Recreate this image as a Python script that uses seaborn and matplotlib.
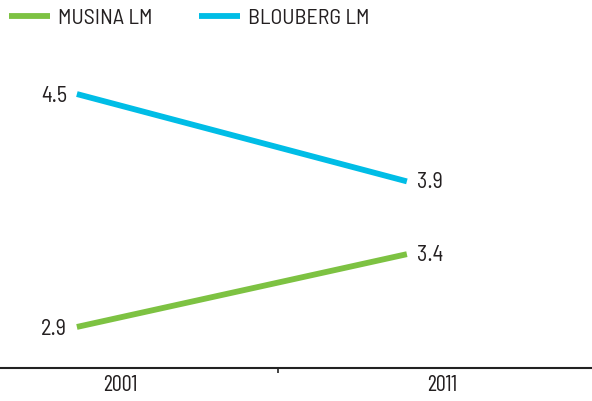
import matplotlib
matplotlib.use("Agg")
import matplotlib.pyplot as plt
import seaborn as sns
import pandas as pd

years = ["2001", "2011"]
musina = [2.9, 3.4]
blouberg = [4.5, 3.9]
series_names = ["MUSINA LM", "BLOUBERG LM"]
colors = ["#7DC242", "#00BDE6"]
text_color = "#231F20"

sns.set_theme(style="white")
plt.rcParams["font.family"] = ["Barlow Condensed", "DejaVu Sans"]
wide_font = ["Barlow Semi Condensed", "DejaVu Sans"]

df = pd.DataFrame({
    "idx": list(range(len(years))) * 2,
    "value": musina + blouberg,
    "series": [series_names[0]] * len(years) + [series_names[1]] * len(years),
})

fig = plt.figure(figsize=(5.92, 4.01), dpi=100)
rect = [0, 33 / 401, 1, 368 / 401]
ylim = (2.618, 5.146)

# base axes: year categories along the bottom axis line
base = fig.add_axes(rect)
base.set_xlim(-0.373, 1.466)
base.set_ylim(*ylim)
base.set_xticks(range(len(years)), years)
base.set_xticks([0.49], minor=True)
base.tick_params(axis="x", which="major", bottom=False, length=0, pad=5,
                 labelsize=16, colors=text_color)
base.tick_params(axis="x", which="minor", bottom=True, length=3.5, width=1.2,
                 direction="out", color="#222222")
base.set_yticks([])
for s in ["top", "left", "right"]:
    base.spines[s].set_visible(False)
base.spines["bottom"].set_color("#222222")
base.spines["bottom"].set_linewidth(1.5)
base.set_facecolor("none")

# overlay axes: the two series
ax = fig.add_axes(rect, sharey=base)
ax.set_xlim(-0.233, 1.561)
ax.patch.set_alpha(0)
sns.lineplot(data=df, x="idx", y="value", hue="series", palette=colors,
             hue_order=series_names, linewidth=4.2, ax=ax, legend=True,
             solid_capstyle="butt")
ax.set_axis_off()

for vals, col in [(musina, colors[0]), (blouberg, colors[1])]:
    ax.annotate(f"{vals[0]:.1f}", (0, vals[0]), xytext=(-7, -2), textcoords="offset points",
                ha="right", va="center", fontsize=16, color=text_color, family=wide_font)
    ax.annotate(f"{vals[1]:.1f}", (1, vals[1]), xytext=(7, -1), textcoords="offset points",
                ha="left", va="center", fontsize=16, color=text_color, family=wide_font)

leg = ax.legend(loc="upper left", bbox_to_anchor=(0.0, 1.0), bbox_transform=fig.transFigure,
                ncol=2, frameon=False, prop={"family": wide_font, "size": 15.8},
                handlelength=1.87, handletextpad=0.37, columnspacing=2.1, borderaxespad=0.0)
for t in leg.get_texts():
    t.set_color(text_color)
for h in leg.get_lines():
    h.set_linewidth(4.2)
    h.set_solid_capstyle("butt")

fig.savefig("out.png", dpi=100)
